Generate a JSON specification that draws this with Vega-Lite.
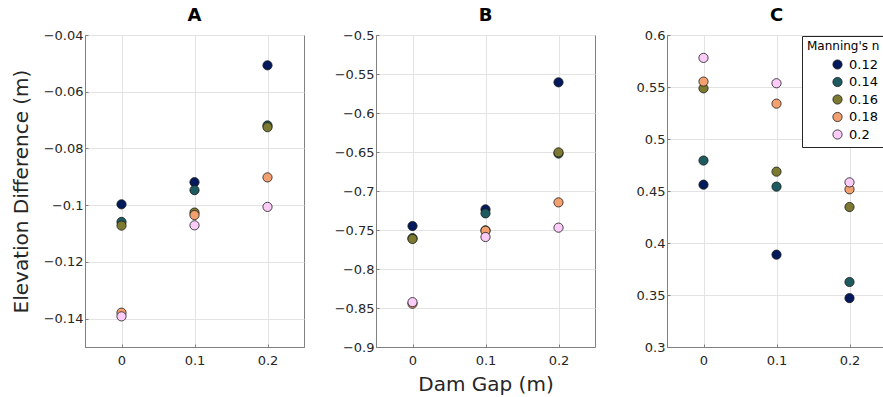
{
  "$schema": "https://vega.github.io/schema/vega-lite/v6.json",
  "padding": {"left": 10, "top": 6, "right": 0, "bottom": 0},
  "background": "white",
  "config": {
    "font": "DejaVu Sans",
    "view": {"stroke": "#808080", "strokeWidth": 1},
    "axis": {
      "gridColor": "#e3e3e3",
      "domainColor": "#808080",
      "tickColor": "#808080",
      "tickSize": -3,
      "labelColor": "#262626",
      "labelFontSize": 13,
      "labelPadding": 5,
      "titleFontSize": 20,
      "titleFontWeight": "normal",
      "titleColor": "#262626"
    },
    "axisX": {"labelPadding": 10},
    "title": {"fontSize": 18, "fontWeight": "bold", "color": "#000000", "offset": 0}
  },
  "datasets": {
    "d": [
      {"panel": "A", "gap": 0, "n": "0.12", "value": -0.0997},
      {"panel": "A", "gap": 0, "n": "0.14", "value": -0.1059},
      {"panel": "A", "gap": 0, "n": "0.16", "value": -0.1072},
      {"panel": "A", "gap": 0, "n": "0.18", "value": -0.1379},
      {"panel": "A", "gap": 0, "n": "0.2", "value": -0.1392},
      {"panel": "A", "gap": 0.1, "n": "0.12", "value": -0.0919},
      {"panel": "A", "gap": 0.1, "n": "0.14", "value": -0.0947},
      {"panel": "A", "gap": 0.1, "n": "0.16", "value": -0.1026},
      {"panel": "A", "gap": 0.1, "n": "0.18", "value": -0.1035},
      {"panel": "A", "gap": 0.1, "n": "0.2", "value": -0.1071},
      {"panel": "A", "gap": 0.2, "n": "0.12", "value": -0.0507},
      {"panel": "A", "gap": 0.2, "n": "0.14", "value": -0.0719},
      {"panel": "A", "gap": 0.2, "n": "0.16", "value": -0.0725},
      {"panel": "A", "gap": 0.2, "n": "0.18", "value": -0.0902},
      {"panel": "A", "gap": 0.2, "n": "0.2", "value": -0.1006},
      {"panel": "B", "gap": 0, "n": "0.12", "value": -0.7449},
      {"panel": "B", "gap": 0, "n": "0.14", "value": -0.7605},
      {"panel": "B", "gap": 0, "n": "0.16", "value": -0.7615},
      {"panel": "B", "gap": 0, "n": "0.18", "value": -0.8445},
      {"panel": "B", "gap": 0, "n": "0.2", "value": -0.8425},
      {"panel": "B", "gap": 0.1, "n": "0.12", "value": -0.7236},
      {"panel": "B", "gap": 0.1, "n": "0.14", "value": -0.7287},
      {"panel": "B", "gap": 0.1, "n": "0.16", "value": -0.7505},
      {"panel": "B", "gap": 0.1, "n": "0.18", "value": -0.751},
      {"panel": "B", "gap": 0.1, "n": "0.2", "value": -0.759},
      {"panel": "B", "gap": 0.2, "n": "0.12", "value": -0.5607},
      {"panel": "B", "gap": 0.2, "n": "0.14", "value": -0.652},
      {"panel": "B", "gap": 0.2, "n": "0.16", "value": -0.6505},
      {"panel": "B", "gap": 0.2, "n": "0.18", "value": -0.7146},
      {"panel": "B", "gap": 0.2, "n": "0.2", "value": -0.747},
      {"panel": "C", "gap": 0, "n": "0.12", "value": 0.4561},
      {"panel": "C", "gap": 0, "n": "0.14", "value": 0.4793},
      {"panel": "C", "gap": 0, "n": "0.16", "value": 0.5487},
      {"panel": "C", "gap": 0, "n": "0.18", "value": 0.5552},
      {"panel": "C", "gap": 0, "n": "0.2", "value": 0.578},
      {"panel": "C", "gap": 0.1, "n": "0.12", "value": 0.3888},
      {"panel": "C", "gap": 0.1, "n": "0.14", "value": 0.4542},
      {"panel": "C", "gap": 0.1, "n": "0.16", "value": 0.4686},
      {"panel": "C", "gap": 0.1, "n": "0.18", "value": 0.534},
      {"panel": "C", "gap": 0.1, "n": "0.2", "value": 0.5536},
      {"panel": "C", "gap": 0.2, "n": "0.12", "value": 0.347},
      {"panel": "C", "gap": 0.2, "n": "0.14", "value": 0.3625},
      {"panel": "C", "gap": 0.2, "n": "0.16", "value": 0.4346},
      {"panel": "C", "gap": 0.2, "n": "0.18", "value": 0.4516},
      {"panel": "C", "gap": 0.2, "n": "0.2", "value": 0.4583}
    ]
  },
  "data": {"name": "d"},
  "spacing": 72,
  "bounds": "flush",
  "resolve": {"scale": {"y": "independent"}, "legend": {"color": "independent"}},
  "hconcat": [
    {
      "width": 219, "height": 312,
      "title": "A",
      "transform": [{"filter": "datum.panel == 'A'"}],
      "mark": {"type": "circle", "size": 85, "opacity": 1, "stroke": "#1a1a1a", "strokeWidth": 0.8},
      "encoding": {
        "x": {"field": "gap", "type": "quantitative", "scale": {"domain": [-0.05, 0.25], "nice": false, "zero": false}, "axis": {"values": [0, 0.1, 0.2], "format": "~g", "title": null}},
        "y": {"field": "value", "type": "quantitative", "scale": {"domain": [-0.15, -0.04], "nice": false, "zero": false}, "axis": {"values": [-0.14, -0.12, -0.1, -0.08, -0.06, -0.04], "format": "~g", "title": "Elevation Difference (m)", "titlePadding": 12}},
        "color": {"field": "n", "type": "nominal", "scale": {"domain": ["0.12", "0.14", "0.16", "0.18", "0.2"], "range": ["#021a5c", "#1d5b61", "#7b7a30", "#f3a070", "#fbccf8"]}, "legend": null}
      }
    },
    {
      "width": 219, "height": 312,
      "title": "B",
      "transform": [{"filter": "datum.panel == 'B'"}],
      "mark": {"type": "circle", "size": 85, "opacity": 1, "stroke": "#1a1a1a", "strokeWidth": 0.8},
      "encoding": {
        "x": {"field": "gap", "type": "quantitative", "scale": {"domain": [-0.05, 0.25], "nice": false, "zero": false}, "axis": {"values": [0, 0.1, 0.2], "format": "~g", "title": "Dam Gap (m)", "titlePadding": 7}},
        "y": {"field": "value", "type": "quantitative", "scale": {"domain": [-0.9, -0.5], "nice": false, "zero": false}, "axis": {"values": [-0.9, -0.85, -0.8, -0.75, -0.7, -0.65, -0.6, -0.55, -0.5], "format": "~g", "title": null}},
        "color": {"field": "n", "type": "nominal", "scale": {"domain": ["0.12", "0.14", "0.16", "0.18", "0.2"], "range": ["#021a5c", "#1d5b61", "#7b7a30", "#f3a070", "#fbccf8"]}, "legend": null}
      }
    },
    {
      "width": 219, "height": 312,
      "title": "C",
      "transform": [{"filter": "datum.panel == 'C'"}],
      "mark": {"type": "circle", "size": 85, "opacity": 1, "stroke": "#1a1a1a", "strokeWidth": 0.8},
      "encoding": {
        "x": {"field": "gap", "type": "quantitative", "scale": {"domain": [-0.05, 0.25], "nice": false, "zero": false}, "axis": {"values": [0, 0.1, 0.2], "format": "~g", "title": null}},
        "y": {"field": "value", "type": "quantitative", "scale": {"domain": [0.3, 0.6], "nice": false, "zero": false}, "axis": {"values": [0.3, 0.35, 0.4, 0.45, 0.5, 0.55, 0.6], "format": "~g", "title": null}},
        "color": {"field": "n", "type": "nominal", "scale": {"domain": ["0.12", "0.14", "0.16", "0.18", "0.2"], "range": ["#021a5c", "#1d5b61", "#7b7a30", "#f3a070", "#fbccf8"]},
          "legend": {"title": "Manning's n", "orient": "none", "legendX": 135, "legendY": 1, "strokeColor": "#262626", "fillColor": "white", "padding": 5, "titleFontSize": 12, "titleFontWeight": "normal", "titleColor": "#000000", "labelFontSize": 13, "labelColor": "#000000", "symbolType": "circle", "symbolSize": 85, "symbolStrokeColor": "#1a1a1a", "symbolStrokeWidth": 0.8, "symbolOffset": 24, "rowPadding": 3.5, "titlePadding": 5, "labelOffset": 5}}
      }
    }
  ]
}
